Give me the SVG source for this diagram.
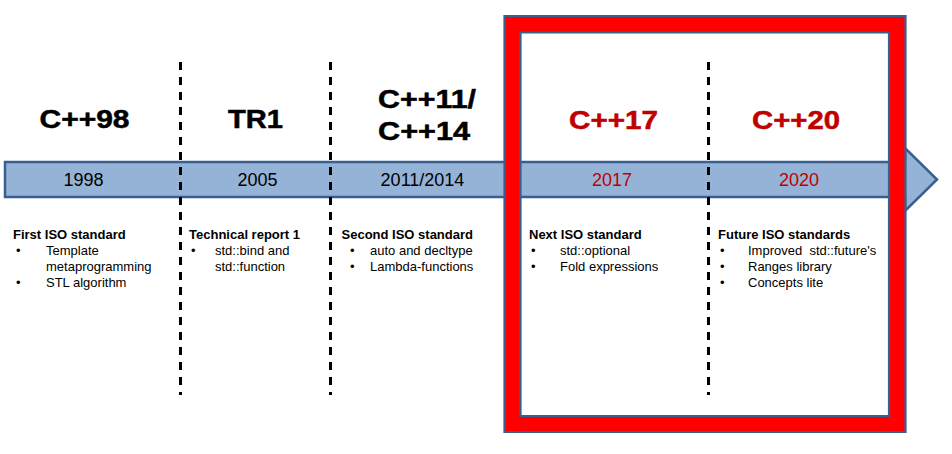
<svg xmlns="http://www.w3.org/2000/svg" width="952" height="454" viewBox="0 0 952 454">
<style>
.bar{fill:#95b3d7;stroke:#3a5f8e;stroke-width:2.5;stroke-linejoin:miter}
.frame{fill:#ff0000;fill-rule:evenodd;stroke:#3a5f8e;stroke-width:2.2}
.sep{stroke:#000;stroke-width:3;stroke-dasharray:8 7;fill:none}
.ttl{font-family:"Liberation Sans",Arial,sans-serif;font-weight:bold;font-size:25px;fill:#000;stroke:#000;stroke-width:0.5}
.ttl.red{fill:#c00000;stroke:#c00000}
.yr{font-family:"Liberation Sans",Arial,sans-serif;font-size:18px;fill:#000;text-anchor:middle}
.yr.red{fill:#c00000}
.hd{font-family:"Liberation Sans",Arial,sans-serif;font-weight:bold;font-size:13px;fill:#000}
.it{font-family:"Liberation Sans",Arial,sans-serif;font-size:13px;fill:#000}
</style>
<rect width="952" height="454" fill="#fff"/>
<g id="timeline">
<path class="bar" d="M5,162 H905 V148 L937,179.5 L905,211 V197 H5 Z"/>
</g>
<g id="highlight-frame">
<path class="frame" d="M504.5,16 H905.5 V432 H504.5 Z M520.5,32.5 V416 H889 V32.5 Z"/>
</g>
<g id="connectors">
<line class="sep" x1="180.5" y1="62" x2="180.5" y2="395"/>
<line class="sep" x1="330.5" y1="62" x2="330.5" y2="395"/>
<line class="sep" x1="708.5" y1="62" x2="708.5" y2="395"/>
</g>
<g id="node-cpp98">
<text class="ttl" x="39.5" y="128" textLength="90" lengthAdjust="spacingAndGlyphs">C++98</text>
<text class="yr" x="83.5" y="185.5">1998</text>
<text class="hd" x="13" y="239">First ISO standard</text>
<text class="it" x="16" y="255">•</text>
<text class="it" x="46" y="255">Template</text>
<text class="it" x="46" y="271">metaprogramming</text>
<text class="it" x="16" y="287">•</text>
<text class="it" x="46" y="287">STL algorithm</text>
</g>
<g id="node-tr1">
<text class="ttl" x="228" y="128" textLength="55" lengthAdjust="spacingAndGlyphs">TR1</text>
<text class="yr" x="257.5" y="185.5">2005</text>
<text class="hd" x="189" y="239">Technical report 1</text>
<text class="it" x="191" y="255">•</text>
<text class="it" x="215" y="255">std::bind and</text>
<text class="it" x="215" y="271">std::function</text>
</g>
<g id="node-cpp11">
<text class="ttl" x="378" y="108" textLength="98" lengthAdjust="spacingAndGlyphs">C++11/</text>
<text class="ttl" x="378" y="140" textLength="92" lengthAdjust="spacingAndGlyphs">C++14</text>
<text class="yr" x="422.5" y="185.5">2011/2014</text>
<text class="hd" x="341.5" y="239">Second ISO standard</text>
<text class="it" x="350" y="255">•</text>
<text class="it" x="370" y="255">auto and decltype</text>
<text class="it" x="350" y="271">•</text>
<text class="it" x="370" y="271">Lambda-functions</text>
</g>
<g id="node-cpp17">
<text class="ttl red" x="569" y="129" textLength="89" lengthAdjust="spacingAndGlyphs">C++17</text>
<text class="yr red" x="612" y="185.5">2017</text>
<text class="hd" x="529" y="239">Next ISO standard</text>
<text class="it" x="531" y="255">•</text>
<text class="it" x="560" y="255">std::optional</text>
<text class="it" x="531" y="271">•</text>
<text class="it" x="560" y="271">Fold expressions</text>
</g>
<g id="node-cpp20">
<text class="ttl red" x="752" y="129" textLength="88" lengthAdjust="spacingAndGlyphs">C++20</text>
<text class="yr red" x="799" y="185.5">2020</text>
<text class="hd" x="718" y="239">Future ISO standards</text>
<text class="it" x="720" y="255">•</text>
<text class="it" x="748" y="255" xml:space="preserve">Improved  std::future's</text>
<text class="it" x="720" y="271">•</text>
<text class="it" x="748" y="271">Ranges library</text>
<text class="it" x="720" y="287">•</text>
<text class="it" x="748" y="287">Concepts lite</text>
</g>
</svg>
